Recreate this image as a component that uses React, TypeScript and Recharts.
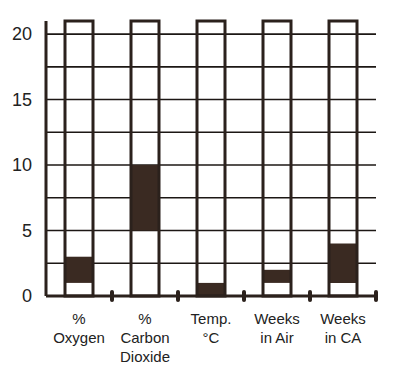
import { Bar, BarChart, CartesianGrid, XAxis, YAxis } from 'recharts';

const categoryLines = [
  ['%', 'Oxygen'],
  ['%', 'Carbon', 'Dioxide'],
  ['Temp.', '°C'],
  ['Weeks', 'in Air'],
  ['Weeks', 'in CA'],
];
const rangeLow = [1, 5, 0, 1, 1];
const rangeHigh = [3, 10, 1, 2, 4];
const scaleTop = 21;
const yTicks = [0, 5, 10, 15, 20];
const gridValues = [2.5, 5, 7.5, 10, 12.5, 15, 17.5, 20];

const INK = '#2b211c';
const FILL = '#3a2a22';
const TEXT = '#222';

const W = 400;
const H = 367;
const margin = { top: 21, right: 24, left: 0, bottom: 0 };
const yAxisWidth = 46;
const band = (W - margin.left - margin.right - yAxisWidth) / categoryLines.length;

const data = categoryLines.map((lines, i) => ({
  name: lines.join(' '),
  range: [rangeLow[i], rangeHigh[i]],
  full: scaleTop,
}));

function CategoryTick(props: any) {
  const { x, y, index } = props;
  const lines = categoryLines[index] || [];
  return (
    <g>
      <rect x={x + band / 2 - 2} y={y - 6} width={4} height={12} rx={2} fill={INK} />
      <text x={x} textAnchor="middle" fontSize={15} fill={TEXT}>
        {lines.map((l, i) => (
          <tspan key={i} x={x} y={y + 28 + i * 19}>{l}</tspan>
        ))}
      </text>
    </g>
  );
}

export default function App() {
  return (
    <div style={{ position: 'absolute', left: 0, top: 0, fontFamily: '"Liberation Sans", Arial, sans-serif' }}>
      <BarChart width={W} height={H} data={data} margin={margin}>
        <CartesianGrid vertical={false} horizontalValues={gridValues} stroke="#1c1714" strokeWidth={1.6} strokeOpacity={1} />
        <XAxis
          xAxisId="cat"
          dataKey="name"
          height={71}
          interval={0}
          tickLine={false}
          tickSize={0}
          tickMargin={0}
          axisLine={{ stroke: INK, strokeWidth: 3 }}
          tick={<CategoryTick />}
        />
        <XAxis xAxisId="outline" dataKey="name" hide />
        <YAxis
          width={yAxisWidth}
          domain={[0, scaleTop]}
          ticks={yTicks}
          tickLine={false}
          tickSize={0}
          tickMargin={14}
          axisLine={{ stroke: INK, strokeWidth: 3 }}
          tick={{ fontSize: 18, fill: TEXT }}
        />
        <Bar xAxisId="cat" dataKey="range" fill={FILL} barSize={28} isAnimationActive={false} />
        <Bar xAxisId="outline" dataKey="full" fill="none" stroke={INK} strokeWidth={3} barSize={28} isAnimationActive={false} />
      </BarChart>
    </div>
  );
}
